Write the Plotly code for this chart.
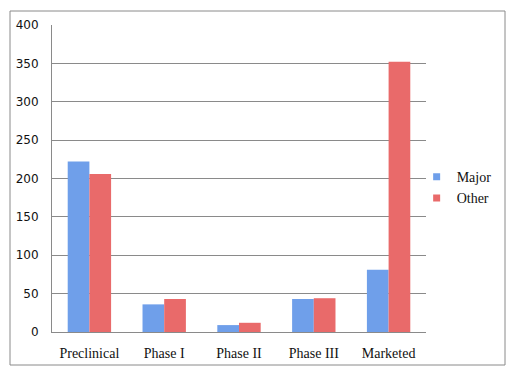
import plotly.graph_objects as go

categories = ["Preclinical", "Phase I", "Phase II", "Phase III", "Marketed"]
major = [222, 36, 9, 43, 81]
other = [206, 43, 12, 44, 352]
y_ticks = [0, 50, 100, 150, 200, 250, 300, 350, 400]
series_names = ["Major", "Other"]
series_colors = ["#6f9fea", "#e96a6a"]

fig = go.Figure()
for name, vals, col in zip(series_names, [major, other], series_colors):
    fig.add_trace(go.Bar(name=name, x=categories, y=vals, showlegend=False,
                         marker=dict(color=col, line=dict(width=0))))
for name, col in zip(series_names, series_colors):
    fig.add_trace(go.Scatter(name=name, x=[None], y=[None], mode="markers",
                             marker=dict(symbol="square", size=7, color=col)))

fig.update_layout(
    width=518, height=376,
    margin=dict(l=52, r=92, t=25, b=44, autoexpand=False),
    paper_bgcolor="white", plot_bgcolor="white",
    barmode="group", bargap=0.42, bargroupgap=0,
    showlegend=True,
    legend=dict(x=0.975, y=0.47, xanchor="left", yanchor="middle",
                font=dict(family="Liberation Serif", size=14, color="#111"),
                itemwidth=30, tracegroupgap=4, bgcolor="rgba(0,0,0,0)"),
    xaxis=dict(showline=True, linecolor="#8a8a8a", linewidth=1, ticks="",
               tickfont=dict(family="Liberation Serif", size=14, color="#111"),
               ticklabelstandoff=8, showgrid=False),
    yaxis=dict(range=[0, 400], tickvals=y_ticks, showgrid=True,
               gridcolor="#8a8a8a", gridwidth=1, showline=True,
               linecolor="#8a8a8a", linewidth=1, ticks="",
               tickfont=dict(family="DejaVu Sans", size=12, color="#111"),
               ticklabelstandoff=10, zeroline=False),
    shapes=[dict(type="rect", xref="paper", yref="paper",
                 x0=-42/374, x1=453/374, y0=-33/307, y1=321/307,
                 line=dict(color="#8a8a8a", width=1), fillcolor="rgba(0,0,0,0)",
                 layer="below")],
)

fig.write_html("out.html")
